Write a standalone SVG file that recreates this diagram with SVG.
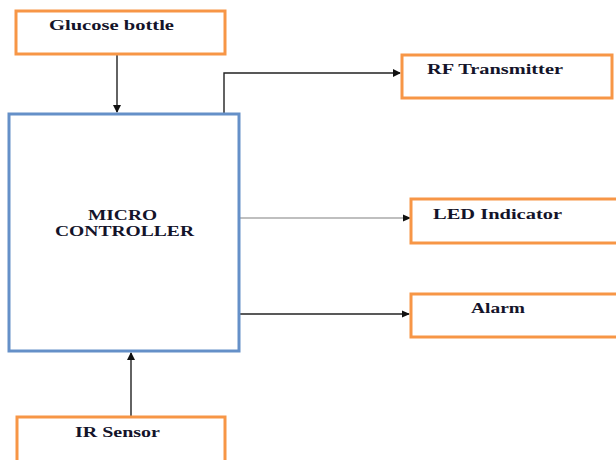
<svg xmlns="http://www.w3.org/2000/svg" width="616" height="460" viewBox="0 0 616 460">
<style>
.box{fill:#fff;stroke:#f79646;stroke-width:3}
.mc{fill:#fff;stroke:#6590c8;stroke-width:3}
.lbl{font-family:'Liberation Serif','DejaVu Serif',serif;font-weight:bold;font-size:15px;fill:#14142a}
.c{fill:none;stroke:#222;stroke-width:1.4}
</style>
<rect width="616" height="460" fill="#fff"/>
<g id="connectors">
<path class="c" d="M117,54 L117,112"/>
<path class="c" d="M224,113 L224,73 L400,73"/>
<path class="c" d="M239,218 L409,218" style="stroke:#aaa"/>
<path class="c" d="M239,314 L409,314"/>
<path class="c" d="M131,417 L131,353"/>
<path d="M113,105 L117,113 L121,105 Z" fill="#111"/>
<path d="M393,69 L401,73 L393,77 Z" fill="#111"/>
<path d="M403,214.5 L411,218 L403,221.5 Z" fill="#111"/>
<path d="M402,310.5 L410,314 L402,317.5 Z" fill="#111"/>
<path d="M127,360 L131,352 L135,360 Z" fill="#111"/>
</g>
<g id="glucose">
<rect class="box" x="16" y="11" width="209" height="43"/>
<text class="lbl" font-family="Liberation Serif" x="49" y="30" textLength="125" lengthAdjust="spacingAndGlyphs">Glucose bottle</text>
</g>
<g id="micro">
<rect class="mc" x="9" y="114" width="230" height="237"/>
<text class="lbl" font-family="Liberation Serif" x="88" y="220" textLength="69" lengthAdjust="spacingAndGlyphs">MICRO</text>
<text class="lbl" font-family="Liberation Serif" x="55" y="236" textLength="139" lengthAdjust="spacingAndGlyphs">CONTROLLER</text>
</g>
<g id="rf">
<rect class="box" x="402" y="55" width="210" height="43"/>
<text class="lbl" font-family="Liberation Serif" x="427" y="74" textLength="136" lengthAdjust="spacingAndGlyphs">RF Transmitter</text>
</g>
<g id="led">
<rect class="box" x="411" y="199" width="210" height="44"/>
<text class="lbl" font-family="Liberation Serif" x="433" y="219" textLength="129" lengthAdjust="spacingAndGlyphs">LED Indicator</text>
</g>
<g id="alarm">
<rect class="box" x="411" y="294" width="210" height="43"/>
<text class="lbl" font-family="Liberation Serif" x="471" y="313" textLength="54" lengthAdjust="spacingAndGlyphs">Alarm</text>
</g>
<g id="ir">
<rect class="box" x="17" y="417" width="208" height="50"/>
<text class="lbl" font-family="Liberation Serif" x="75" y="437" textLength="85" lengthAdjust="spacingAndGlyphs">IR Sensor</text>
</g>
</svg>
